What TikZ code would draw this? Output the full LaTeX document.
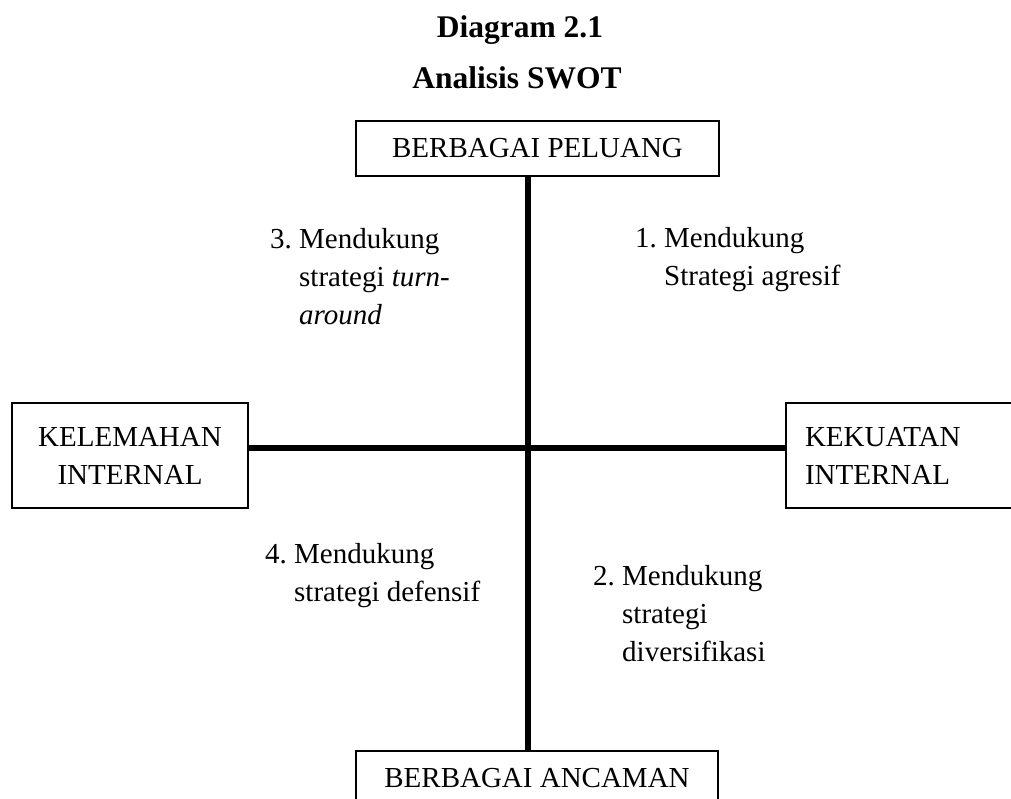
\documentclass[tikz,border=0pt]{standalone}
\usepackage{fontspec}
\setmainfont{Liberation Serif}
\newcommand{\butir}[2]{\begin{tabular}[t]{@{}l@{\hspace{7.25pt}}l@{}}#1 & #2\end{tabular}}
\begin{document}
\begin{tikzpicture}[x=1pt,y=-1pt]
    \tikzset{every node/.style={inner sep=0pt, font=\fontsize{29}{38}\selectfont},
      kotak/.style={draw=black, line width=1.2pt},
      judul/.style={anchor=base, font=\fontsize{31.5}{38}\selectfont\bfseries},
      butirstrat/.style={anchor=base west},
      sumbu/.style={line width=6pt}}
    \useasboundingbox[fill=white] (0,0) rectangle (1011,798);
    \node[judul] (judul1) at (520,37) {Diagram 2.1};
    \node[judul] (judul2) at (517,88) {Analisis SWOT};
    \node[kotak, minimum width=363pt, minimum height=55pt] (peluang) at (537.5,148.5) {BERBAGAI PELUANG};
    \node[kotak, minimum width=362pt, minimum height=55pt] (ancaman) at (537,778.5) {BERBAGAI ANCAMAN};
    \node[kotak, minimum width=236pt, minimum height=105pt, align=center] (kelemahan) at (130,455.5) {KELEMAHAN\\INTERNAL};
    \node[kotak, minimum height=105pt, text width=198pt, inner xsep=19pt, align=left] (kekuatan) at (904,455.5) {KEKUATAN\\INTERNAL};
    \coordinate (pusat) at (528,448);
    \draw[sumbu] (peluang.south -| pusat) -- (ancaman.north -| pusat);
    \draw[sumbu] (kelemahan.east |- pusat) -- (kekuatan.west |- pusat);
    \node[butirstrat] (agresif) at (635,247) {\butir{1.}{Mendukung\\ & Strategi agresif}};
    \node[butirstrat] (diversifikasi) at (593,585) {\butir{2.}{Mendukung\\ & strategi\\ & diversifikasi}};
    \node[butirstrat] (turnaround) at (270,248) {\butir{3.}{Mendukung\\ & strategi \textit{turn-}\\ & \textit{around}}};
    \node[butirstrat] (defensif) at (265,563) {\butir{4.}{Mendukung\\ & strategi defensif}};
\end{tikzpicture}
\end{document}
